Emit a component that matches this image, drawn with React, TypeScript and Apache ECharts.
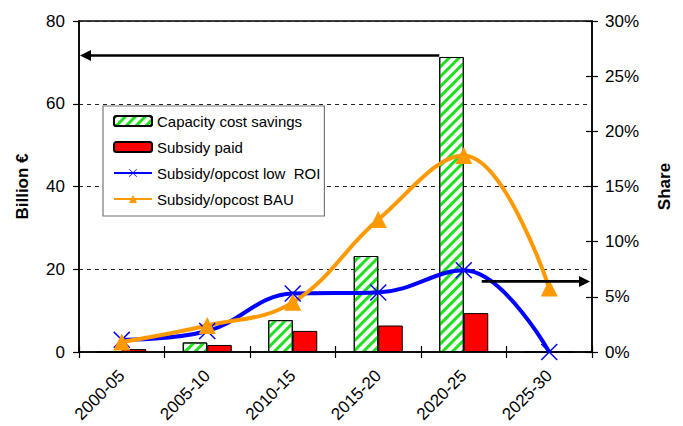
import React, { useEffect, useRef } from "react";
import * as echarts from "echarts";

// Five-year periods on the category axis
const periods = ["2000-05", "2005-10", "2010-15", "2015-20", "2020-25", "2025-30"];

// Left axis: billion €
const capacitySavings = [0, 2.3, 7.7, 23.2, 71.3, 0];
const subsidyPaid = [0.7, 1.7, 5.1, 6.4, 9.4, 0];

// Right axis: share in %
const shareLowRoi = [1.1, 1.9, 5.3, 5.4, 7.4, 0];
const shareBau = [0.9, 2.4, 4.5, 12.0, 17.8, 5.8];

// Axis ranges
const billionMax = 80;
const billionStep = 20;
const shareMax = 30;
const shareStep = 5;

// Level marked by the arrow pointing to the share axis
const arrowShare = 6.4;

const W = 683;
const H = 426;
const GRID = { left: 79, right: 91, top: 21, bottom: 74 };
const BAR_W = 24.5;
const FONT = "'Liberation Sans', Arial, Helvetica, sans-serif";

// Thin "x" marker used by the low-ROI line
const CROSS =
  "path://M0,6 L6,0 L50,44 L94,0 L100,6 L56,50 L100,94 L94,100 L50,56 L6,100 L0,94 L44,50 Z";

export default function App() {
  const ref = useRef<HTMLDivElement>(null);

  useEffect(() => {
    if (!ref.current) return;
    const chart = echarts.init(ref.current, undefined, { renderer: "svg", width: W, height: H });

    const option: any = {
      animation: false,
      backgroundColor: "#fff",
      textStyle: { fontFamily: FONT, color: "#000" },
      grid: {
        ...GRID,
        show: true,
        borderColor: "#000",
        borderWidth: 1.5,
        backgroundColor: "transparent",
      },
      legend: {
        orient: "vertical",
        left: 103,
        top: 106,
        padding: [7, 4, 9, 10],
        itemWidth: 38,
        itemHeight: 10,
        itemGap: 10,
        backgroundColor: "#fff",
        borderColor: "#777",
        borderWidth: 1.2,
        textStyle: { fontFamily: FONT, fontSize: 15, color: "#000", lineHeight: 16 },
        data: [
          "Capacity cost savings",
          "Subsidy paid",
          "Subsidy/opcost low  ROI",
          "Subsidy/opcost BAU",
        ],
      },
      xAxis: [
        {
          type: "category",
          data: periods,
          position: "bottom",
          boundaryGap: true,
          axisLine: { show: true, lineStyle: { color: "#000", width: 1.5 } },
          axisTick: { show: true, inside: false, length: 6, lineStyle: { color: "#000", width: 1.2 } },
          axisLabel: {
            rotate: 45,
            margin: 21,
            fontSize: 17,
            fontFamily: FONT,
            color: "#000",
            interval: 0,
          },
          splitLine: { show: false },
        },
        {
          // inner half of the crossing ticks
          type: "category",
          data: periods,
          position: "bottom",
          axisLine: { show: false },
          axisTick: { show: true, inside: true, length: 6, lineStyle: { color: "#000", width: 1.2 } },
          axisLabel: { show: false },
          splitLine: { show: false },
        },
      ],
      yAxis: [
        {
          type: "value",
          min: 0,
          max: billionMax,
          interval: billionStep,
          position: "left",
          name: "Billion €",
          nameLocation: "middle",
          nameGap: 48,
          nameRotate: 90,
          nameTextStyle: { fontFamily: FONT, fontSize: 17, fontWeight: "bold", color: "#000" },
          axisLine: { show: true, lineStyle: { color: "#000", width: 1.5 } },
          axisTick: { show: true, inside: false, length: 6, lineStyle: { color: "#000", width: 1.2 } },
          axisLabel: { margin: 14, fontSize: 17, fontFamily: FONT, color: "#000" },
          splitLine: { show: true, lineStyle: { color: "#222", width: 1, type: [4, 4] } },
        },
        {
          type: "value",
          min: 0,
          max: shareMax,
          interval: shareStep,
          position: "right",
          name: "Share",
          nameLocation: "middle",
          nameGap: 64,
          nameRotate: 90,
          nameTextStyle: { fontFamily: FONT, fontSize: 17, fontWeight: "bold", color: "#000" },
          axisLine: { show: true, lineStyle: { color: "#000", width: 1.5 } },
          axisTick: { show: true, inside: false, length: 6, lineStyle: { color: "#000", width: 1.2 } },
          axisLabel: {
            margin: 13,
            fontSize: 17,
            fontFamily: FONT,
            color: "#000",
            formatter: "{value}%",
          },
          splitLine: { show: false },
        },
        {
          // inner half of the crossing ticks on the share axis
          type: "value",
          min: 0,
          max: shareMax,
          interval: shareStep,
          position: "right",
          axisLine: { show: false },
          axisTick: { show: true, inside: true, length: 6, lineStyle: { color: "#000", width: 1.2 } },
          axisLabel: { show: false },
          splitLine: { show: false },
        },
      ],
      series: [
        {
          name: "Capacity cost savings",
          type: "bar",
          xAxisIndex: 0,
          yAxisIndex: 0,
          data: capacitySavings,
          barWidth: BAR_W,
          barGap: "0%",
          itemStyle: {
            color: "#fff",
            borderColor: "#000",
            borderWidth: 1,
            decal: {
              symbol: "rect",
              color: "#1ee01e",
              dashArrayX: [1, 0],
              dashArrayY: [3, 3.5],
              rotation: -Math.PI / 4,
            },
          },
        },
        {
          name: "Subsidy paid",
          type: "bar",
          xAxisIndex: 0,
          yAxisIndex: 0,
          data: subsidyPaid,
          barWidth: BAR_W,
          barGap: "0%",
          itemStyle: { color: "#ff0000", borderColor: "#000", borderWidth: 1 },
        },
        {
          name: "Subsidy/opcost low  ROI",
          type: "line",
          xAxisIndex: 0,
          yAxisIndex: 1,
          data: shareLowRoi,
          smooth: 0.4,
          symbol: CROSS,
          symbolSize: 17,
          showAllSymbol: true,
          lineStyle: { color: "#0000ff", width: 4 },
          itemStyle: { color: "#0000ff" },
        },
        {
          name: "Subsidy/opcost BAU",
          type: "line",
          xAxisIndex: 0,
          yAxisIndex: 1,
          data: shareBau,
          smooth: 0.4,
          symbol: "triangle",
          symbolSize: 17,
          showAllSymbol: true,
          lineStyle: { color: "#ff9900", width: 4 },
          itemStyle: { color: "#ff9900" },
        },
      ],
    };

    chart.setOption(option);

    // Arrows: from the 2020-25 capacity bar to the billion axis, and to the share axis
    const xCat = chart.convertToPixel({ xAxisIndex: 0 }, periods[4]) as number;
    const yBar = chart.convertToPixel({ yAxisIndex: 0 }, capacitySavings[4]) as number;
    const yShare = chart.convertToPixel({ yAxisIndex: 1 }, arrowShare) as number;
    const leftEdge = GRID.left + 1;
    const rightEdge = W - GRID.right - 2;
    const head = 11;
    const half = 5.5;
    const arrowStyle = { stroke: "#000", lineWidth: 2.6 };

    chart.setOption({
      graphic: [
        {
          type: "line",
          z: 20,
          shape: { x1: xCat - BAR_W, y1: yBar - 1.5, x2: leftEdge + head - 1, y2: yBar - 1.5 },
          style: arrowStyle,
        },
        {
          type: "polygon",
          z: 20,
          shape: {
            points: [
              [leftEdge, yBar - 1.5],
              [leftEdge + head, yBar - 1.5 - half],
              [leftEdge + head, yBar - 1.5 + half],
            ],
          },
          style: { fill: "#000" },
        },
        {
          type: "line",
          z: 20,
          shape: { x1: xCat + 18, y1: yShare, x2: rightEdge - head + 1, y2: yShare },
          style: arrowStyle,
        },
        {
          type: "polygon",
          z: 20,
          shape: {
            points: [
              [rightEdge, yShare],
              [rightEdge - head, yShare - half],
              [rightEdge - head, yShare + half],
            ],
          },
          style: { fill: "#000" },
        },
      ],
    });

    return () => chart.dispose();
  }, []);

  return (
    <div
      ref={ref}
      style={{ position: "fixed", left: 0, top: 0, width: W, height: H, background: "#fff" }}
    />
  );
}
